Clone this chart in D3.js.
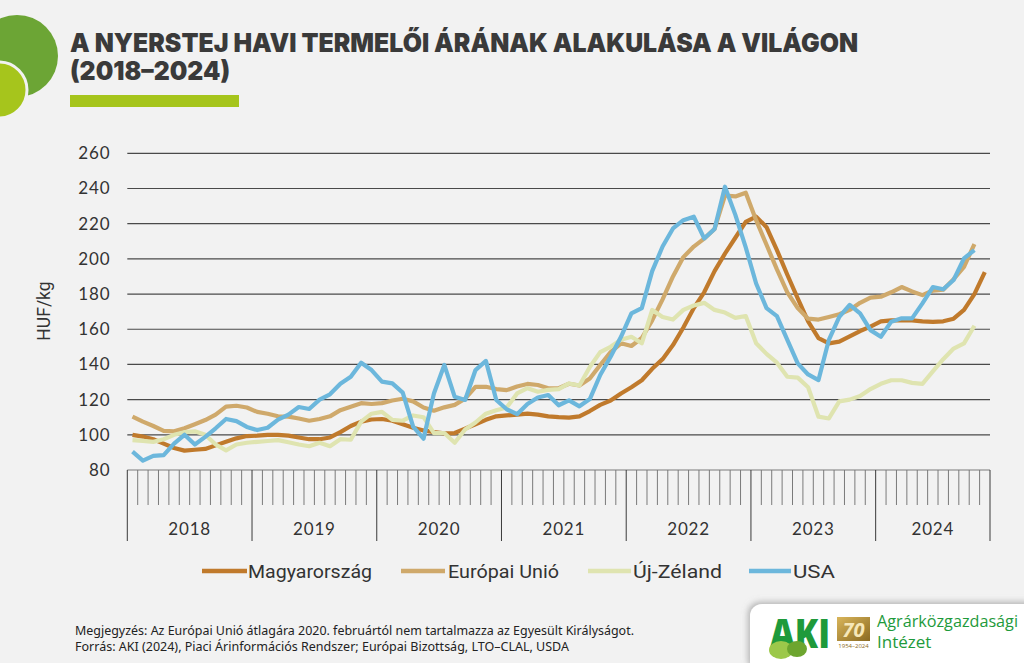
<!DOCTYPE html>
<html>
<head>
<meta charset="utf-8">
<script src="https://cdn.jsdelivr.net/npm/d3@7"></script>
<style>
  html, body { margin: 0; padding: 0; background: #f2f2f2; }
  svg { display: block; }
</style>
</head>
<body>
<svg id="chart" width="1024" height="663"></svg>
<script>
// ---------------- DATA ----------------
const years = [2018, 2019, 2020, 2021, 2022, 2023, 2024];
const monthsInLastYear = 11;
const yTicks = [80, 100, 120, 140, 160, 180, 200, 220, 240, 260];
const seriesNames = ["Magyarország", "Európai Unió", "Új-Zéland", "USA"];
const seriesColors = ["#c07a2c", "#cfa96b", "#dfe4b0", "#6cb7dc"];

const hungary = [100, 99, 97.5, 95, 92.5, 91, 91.5, 92, 94, 96,
  98, 99.3, 99.5, 100, 100, 99.5, 98.5, 97.5, 97.5, 98.5,
  101.5, 105, 107.5, 108.7, 109, 108, 106, 104, 102.5, 101.5,
  100.8, 101, 103.5, 106, 108.5, 110.5, 111, 111.5, 112, 111.5,
  110.5, 110, 109.8, 110.5, 113.5, 117, 119.5, 123.5, 127, 131,
  137.5, 143, 151, 161, 172, 181, 193, 203, 212, 221,
  224, 218, 205, 191, 177.5, 164.5, 155, 152, 153, 156,
  159, 161.5, 164.5, 165, 165, 165, 164.5, 164.2, 164.5, 166,
  171, 180, 192.5];

const eu = [110.3, 107.5, 105, 102.2, 102, 103.7, 106, 108.4, 111.5, 116,
  116.5, 115.5, 113, 112, 110.5, 110.3, 109.3, 108, 109, 110.5,
  114, 116, 118, 117.5, 118, 119.5, 120.5, 119, 115.5, 113.7,
  115.6, 117, 120.5, 127.3, 127.3, 126, 125.4, 127.5, 128.9, 128.3,
  126.4, 126.5, 129, 128, 132, 139.7, 147, 152, 150.5, 155,
  165, 177, 190, 201, 207, 211.5, 217, 236, 235.5, 237.6,
  222, 208, 194, 181, 172, 166, 165.5, 167, 168.5, 171,
  175, 178, 178.5, 181, 184, 181.5, 179.4, 182, 182.5, 188.5,
  195.5, 208.4];

const newZealand = [97, 96.6, 96, 97.5, 100, 101.5, 102, 100, 94.5, 91.2,
  94.5, 95.5, 96, 96.5, 97, 95.8, 94.5, 93.5, 95.5, 93.5,
  97.5, 97.2, 107.5, 112, 113, 108.5, 108, 111, 110, 101,
  101, 95.5, 103, 107, 112, 114, 115.5, 123.5, 126.5, 124.5,
  125.5, 126, 129.2, 128, 138.5, 147, 150, 154, 155.7, 152,
  171, 167, 165.5, 171, 173.5, 175, 171, 169.5, 166.5, 167.5,
  152, 146, 141, 133, 132.5, 127, 110.3, 109.3, 119, 120,
  122, 126, 129, 131, 131, 129.5, 129, 136, 143, 149,
  152, 162];

const usa = [90.4, 85.3, 88, 88.5, 95, 100, 94.5, 98.8, 103.7, 109,
  107.8, 104.5, 102.7, 104, 108.6, 111.5, 115.8, 114.7, 120, 123,
  129, 133, 141, 136.8, 130.2, 129.2, 124, 104.6, 97.8, 123.5,
  139.7, 121.6, 119.8, 136.8, 142, 119.8, 114.5, 111.7, 117.5, 121.2,
  122.6, 116.8, 119.6, 116.2, 120.3, 134, 144.4, 155.7, 169, 172,
  193, 207, 217.3, 222, 224, 211.6, 217, 241, 225, 206.5,
  186, 172, 167.5, 154, 140.6, 134.3, 131.1, 154, 167, 173.8,
  169, 159.5, 155.7, 164.3, 166.2, 166.2, 174.7, 184, 182.7, 188,
  200.3, 205];

const seriesValues = [hungary, eu, newZealand, usa];

// categories: one per month
const categories = [];
years.forEach((y, yi) => {
  const n = yi === years.length - 1 ? monthsInLastYear : 12;
  for (let m = 1; m <= n; m++) categories.push(y + "-" + String(m).padStart(2, "0"));
});

// ---------------- LAYOUT ----------------
const svg = d3.select("#chart");
const W = 1024, H = 663;
const plot = { left: 127.3, right: 990, top: 153.3, bottom: 470 };
const TXT = "#333333";

svg.append("rect").attr("width", W).attr("height", H).attr("fill", "#f2f2f2");

// decorative circles top-left
svg.append("circle").attr("cx", 17).attr("cy", 56).attr("r", 41).attr("fill", "#6ca535");
svg.append("circle").attr("cx", -1).attr("cy", 90).attr("r", 28).attr("fill", "#a6c51c")
  .attr("stroke", "#f2f2f2").attr("stroke-width", 3);

// title
svg.append("text").attr("x", 70).attr("y", 52)
  .attr("font-family", "Inter, 'Open Sans', sans-serif").attr("font-weight", 900)
  .attr("font-size", 26).attr("fill", "#3a3a3a")
  .attr("textLength", 788).attr("lengthAdjust", "spacingAndGlyphs")
  .text("A NYERSTEJ HAVI TERMELŐI ÁRÁNAK ALAKULÁSA A VILÁGON");
svg.append("text").attr("x", 70).attr("y", 80)
  .attr("font-family", "Inter, 'Open Sans', sans-serif").attr("font-weight", 900)
  .attr("font-size", 26).attr("fill", "#3a3a3a")
  .attr("textLength", 160).attr("lengthAdjust", "spacingAndGlyphs")
  .text("(2018–2024)");
svg.append("rect").attr("x", 70).attr("y", 95).attr("width", 169).attr("height", 12).attr("fill", "#a6c51c");

// scales
const x = d3.scaleBand().domain(categories).range([plot.left, plot.right]).padding(0);
const y = d3.scaleLinear().domain([80, 260]).range([plot.bottom, plot.top]);
const bw = x.bandwidth();

// gridlines
const g = svg.append("g");
g.selectAll("line.grid").data(yTicks.filter(v => v > 80)).join("line")
  .attr("x1", plot.left).attr("x2", plot.right)
  .attr("y1", d => y(d)).attr("y2", d => y(d))
  .attr("stroke", "#4a4a4a").attr("stroke-width", 1.2);

// y axis labels (via d3 axis)
const yAxis = svg.append("g").attr("transform", `translate(${plot.left},0)`)
  .call(d3.axisLeft(y).tickValues(yTicks).tickSize(0).tickPadding(17));
yAxis.select(".domain").remove();
yAxis.selectAll("text").attr("font-family", "Lato, 'Open Sans', sans-serif")
  .attr("font-size", 17).attr("fill", TXT).attr("letter-spacing", 0.8);

svg.append("text").attr("transform", "translate(50,311) rotate(-90)")
  .attr("text-anchor", "middle").attr("font-family", "Roboto, sans-serif")
  .attr("font-size", 17.5).attr("fill", TXT).text("HUF/kg");

// x axis: line + month ticks + year separators
svg.append("line").attr("x1", plot.left).attr("x2", plot.right)
  .attr("y1", plot.bottom).attr("y2", plot.bottom)
  .attr("stroke", "#7a7a7a").attr("stroke-width", 1.2);
const edges = categories.map(c => x(c)).concat([plot.right]);
svg.append("g").selectAll("line").data(edges).join("line")
  .attr("x1", d => d).attr("x2", d => d)
  .attr("y1", plot.bottom)
  .attr("y2", (d, i) => (i % 12 === 0 || i === categories.length) ? 541 : 505)
  .attr("stroke", (d, i) => (i % 12 === 0 || i === categories.length) ? "#3a3a3a" : "#7a7a7a")
  .attr("stroke-width", 1);

svg.append("g").selectAll("text").data(years).join("text")
  .attr("x", (d, i) => {
    const start = i * 12, end = Math.min(start + 12, categories.length);
    return (edges[start] + edges[end]) / 2;
  })
  .attr("y", 535).attr("text-anchor", "middle")
  .attr("font-family", "Lato, 'Open Sans', sans-serif").attr("font-size", 17)
  .attr("letter-spacing", 0.8).attr("fill", TXT).text(d => d);

// lines
const line = d3.line()
  .x((d, i) => x(categories[i]) + bw / 2)
  .y(d => y(d));
svg.append("g").selectAll("path").data(seriesValues).join("path")
  .attr("d", d => line(d))
  .attr("fill", "none")
  .attr("stroke", (d, i) => seriesColors[i])
  .attr("stroke-width", 4.2)
  .attr("stroke-linejoin", "round")
  .attr("stroke-linecap", "butt");

// legend
const legendItems = [
  { x1: 202, x2: 247, tx: 248, tw: 124 },
  { x1: 401, x2: 445, tx: 448, tw: 111 },
  { x1: 588, x2: 631, tx: 633, tw: 89 },
  { x1: 749, x2: 791, tx: 793, tw: 42 }
];
const lg = svg.append("g");
legendItems.forEach((it, i) => {
  lg.append("line").attr("x1", it.x1).attr("x2", it.x2).attr("y1", 571).attr("y2", 571)
    .attr("stroke", seriesColors[i]).attr("stroke-width", 4.5);
  lg.append("text").attr("x", it.tx).attr("y", 577.5)
    .attr("font-family", "Roboto, sans-serif").attr("font-size", 18).attr("fill", TXT)
    .attr("textLength", it.tw).attr("lengthAdjust", "spacingAndGlyphs")
    .text(seriesNames[i]);
});

// footnote
svg.append("text").attr("x", 75).attr("y", 635)
  .attr("font-family", "'Noto Sans', sans-serif").attr("font-size", 12.5).attr("fill", "#222")
  .attr("textLength", 559).attr("lengthAdjust", "spacingAndGlyphs")
  .text("Megjegyzés: Az Európai Unió átlagára 2020. februártól nem tartalmazza az Egyesült Királyságot.");
svg.append("text").attr("x", 75).attr("y", 651)
  .attr("font-family", "'Noto Sans', sans-serif").attr("font-size", 12.5).attr("fill", "#222")
  .attr("textLength", 494).attr("lengthAdjust", "spacingAndGlyphs")
  .text("Forrás: AKI (2024), Piaci Árinformációs Rendszer; Európai Bizottság, LTO–CLAL, USDA");

// logo panel
const defs = svg.append("defs");
const f = defs.append("filter").attr("id", "sh").attr("x", "-20%").attr("y", "-40%").attr("width", "140%").attr("height", "180%");
f.append("feDropShadow").attr("dx", -2).attr("dy", -2).attr("stdDeviation", 3).attr("flood-color", "#888").attr("flood-opacity", 0.6);
const gold = defs.append("linearGradient").attr("id", "gold").attr("x1", 0).attr("y1", 0).attr("x2", 1).attr("y2", 1);
gold.append("stop").attr("offset", "0%").attr("stop-color", "#d9b55a");
gold.append("stop").attr("offset", "100%").attr("stop-color", "#8a6a22");

svg.append("rect").attr("x", 750).attr("y", 604).attr("width", 290).attr("height", 70).attr("rx", 12)
  .attr("fill", "#ffffff").attr("filter", "url(#sh)");
svg.append("text").attr("x", 770).attr("y", 648)
  .attr("font-family", "'Open Sans', sans-serif").attr("font-weight", 800)
  .attr("font-size", 40).attr("fill", "#1e9a3b")
  .attr("textLength", 60).attr("lengthAdjust", "spacingAndGlyphs").text("AKI");
svg.append("ellipse").attr("cx", 781).attr("cy", 650).attr("rx", 12).attr("ry", 9).attr("fill", "#9cc84a");
svg.append("ellipse").attr("cx", 797).attr("cy", 649).attr("rx", 10).attr("ry", 8).attr("fill", "#6da52f");
svg.append("rect").attr("x", 837).attr("y", 617).attr("width", 33).attr("height", 24).attr("fill", "url(#gold)");
svg.append("text").attr("x", 853.5).attr("y", 637).attr("text-anchor", "middle")
  .attr("font-family", "'Open Sans', sans-serif").attr("font-weight", 700).attr("font-style", "italic")
  .attr("font-size", 20).attr("fill", "#f6e7b8").text("70");
svg.append("text").attr("x", 853.5).attr("y", 648).attr("text-anchor", "middle")
  .attr("font-family", "'Open Sans', sans-serif").attr("font-size", 6).attr("fill", "#8a6a22")
  .text("1954–2024");
svg.append("text").attr("x", 877).attr("y", 627)
  .attr("font-family", "'Open Sans', sans-serif").attr("font-size", 17).attr("fill", "#1e9a3b")
  .attr("textLength", 141).attr("lengthAdjust", "spacingAndGlyphs").text("Agrárközgazdasági");
svg.append("text").attr("x", 877).attr("y", 648)
  .attr("font-family", "'Open Sans', sans-serif").attr("font-size", 17).attr("fill", "#1e9a3b")
  .text("Intézet");
</script>
</body>
</html>
